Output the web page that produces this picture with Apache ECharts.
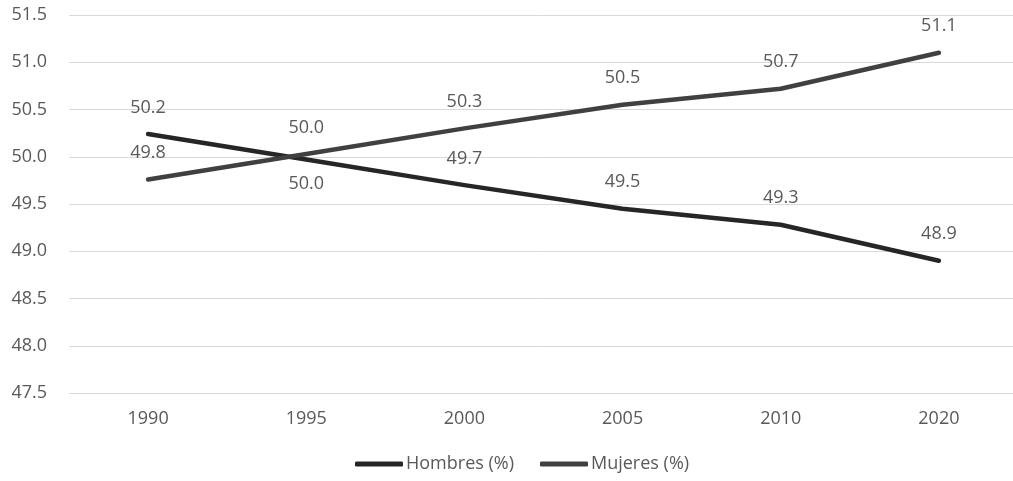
<!DOCTYPE html>
<html>
<head>
<meta charset="utf-8">
<script src="https://cdn.jsdelivr.net/npm/echarts@6/dist/echarts.min.js"></script>
<style>
html,body{margin:0;padding:0;background:#fff;}
#chart{width:1013px;height:481px;}
</style>
</head>
<body>
<div id="chart"></div>
<script>
const years = ['1990', '1995', '2000', '2005', '2010', '2020'];
const hombres = [50.24, 49.97, 49.70, 49.45, 49.28, 48.90];
const mujeres = [49.76, 50.03, 50.30, 50.55, 50.72, 51.10];
const seriesNames = ['Hombres (%)', 'Mujeres (%)'];
const hombresBelowIdx = [1];

const FONT = '"Open Sans", "Noto Sans", sans-serif';
const TXT = '#595959';
const FS = 18;

const chart = echarts.init(document.getElementById('chart'), null, {renderer: 'canvas'});

function makeData(vals, belowIdx) {
  return vals.map((v, i) => {
    if (belowIdx.indexOf(i) >= 0) {
      return {value: v, label: {position: 'bottom', distance: 15}};
    }
    return v;
  });
}

const option = {
  animation: false,
  backgroundColor: '#ffffff',
  grid: {left: 69, right: -5, top: 15, bottom: 88, outerBoundsMode: 'none'},
  xAxis: {
    type: 'category',
    data: years,
    boundaryGap: true,
    axisLine: {show: false},
    axisTick: {show: false},
    axisLabel: {color: TXT, fontFamily: FONT, fontSize: FS, margin: 17}
  },
  yAxis: {
    type: 'value',
    min: 47.5,
    max: 51.5,
    interval: 0.5,
    axisLine: {show: false},
    axisTick: {show: false},
    splitLine: {lineStyle: {color: '#d9d9d9', width: 1}},
    axisLabel: {
      color: TXT, fontFamily: FONT, fontSize: FS, margin: 22,
      formatter: v => v.toFixed(1)
    }
  },
  legend: {
    left: 350,
    top: 450,
    icon: 'roundRect',
    itemWidth: 48,
    itemHeight: 5,
    itemGap: 26,
    textStyle: {color: TXT, fontFamily: FONT, fontSize: FS, padding: [0, 0, 0, -2]},
    data: seriesNames
  },
  series: [
    {
      name: seriesNames[0],
      type: 'line',
      data: makeData(hombres, hombresBelowIdx),
      symbol: 'circle',
      symbolSize: 1,
      lineStyle: {color: '#262626', width: 4.5, cap: 'round', join: 'round'},
      itemStyle: {color: '#262626'},
      label: {
        show: true, position: 'top', distance: 17,
        color: TXT, fontFamily: FONT, fontSize: FS,
        formatter: p => Number(p.value).toFixed(1)
      }
    },
    {
      name: seriesNames[1],
      type: 'line',
      data: makeData(mujeres, []),
      symbol: 'circle',
      symbolSize: 1,
      lineStyle: {color: '#404040', width: 4.5, cap: 'round', join: 'round'},
      itemStyle: {color: '#404040'},
      label: {
        show: true, position: 'top', distance: 17,
        color: TXT, fontFamily: FONT, fontSize: FS,
        formatter: p => Number(p.value).toFixed(1)
      }
    }
  ]
};
chart.setOption(option);
</script>
</body>
</html>
